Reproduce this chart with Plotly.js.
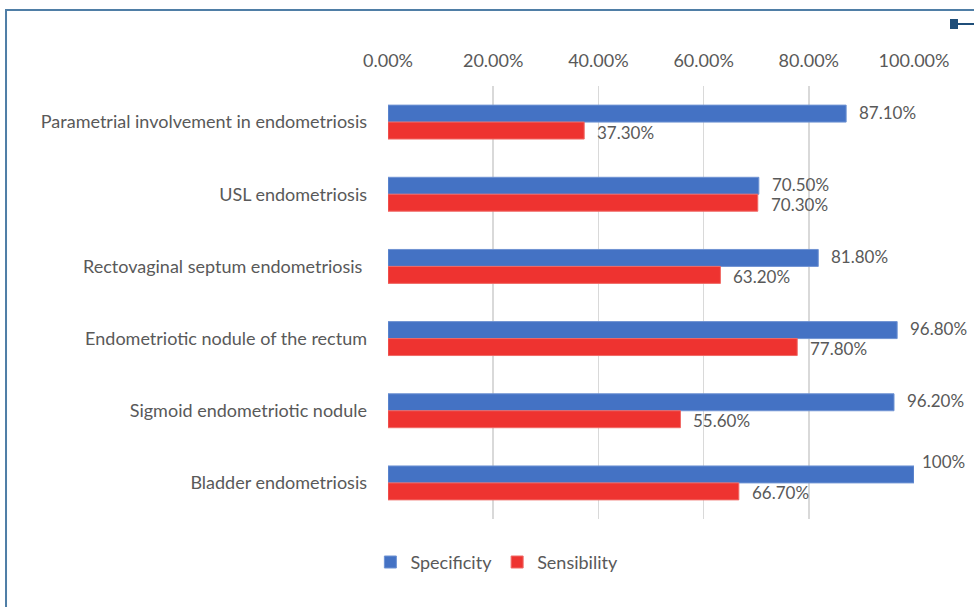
<!DOCTYPE html>
<html>
<head>
<meta charset="utf-8">
<script src="https://cdn.plot.ly/plotly-3.0.1.min.js"></script>
<style>
html,body{margin:0;padding:0;background:#fff;}
#chart{width:974px;height:607px;}
</style>
</head>
<body>
<div id="chart"></div>
<script>
const categories = [
  "Parametrial involvement in endometriosis",
  "USL endometriosis",
  "Rectovaginal septum endometriosis ",
  "Endometriotic nodule of the rectum",
  "Sigmoid endometriotic nodule",
  "Bladder endometriosis"
];
const specificity = [0.871, 0.705, 0.818, 0.968, 0.962, 1.0];
const sensibility = [0.373, 0.703, 0.632, 0.778, 0.556, 0.667];
const specificityLabels = ["87.10%", "70.50%", "81.80%", "96.80%", "96.20%", "100%"];
const sensibilityLabels = ["37.30%", "70.30%", "63.20%", "77.80%", "55.60%", "66.70%"];
const tickVals = [0, 0.2, 0.4, 0.6, 0.8, 1.0];
const tickText = ["0.00%", "20.00%", "40.00%", "60.00%", "80.00%", "100.00%"];

const FONT = "Lato, 'Open Sans', sans-serif";
const FS = 18;
const LFS = 17;
const GRAY = "#595959";
const BLUE = "#4472C4";
const RED = "#EE3330";

const traces = [
  {type: "bar", orientation: "h", name: "Specificity", y: categories, x: specificity,
   marker: {color: BLUE, line: {color: "#6f93d3", width: 1}}, hoverinfo: "x+y"},
  {type: "bar", orientation: "h", name: "Sensibility", y: categories, x: sensibility,
   marker: {color: RED, line: {color: "#f06a66", width: 1}}, hoverinfo: "x+y"}
];

const annotations = [];
categories.forEach((c, i) => {
  annotations.push({x: specificity[i], y: c, xref: "x", yref: "y", text: specificityLabels[i],
    showarrow: false, xanchor: "left", yanchor: "middle", xshift: specificity[i] >= 1 ? 6 : 11,
    yshift: specificity[i] >= 1 ? 21 : 10, font: {family: FONT, size: LFS, color: GRAY}});
  annotations.push({x: sensibility[i], y: c, xref: "x", yref: "y", text: sensibilityLabels[i],
    showarrow: false, xanchor: "left", yanchor: "middle", xshift: 11,
    yshift: -10, font: {family: FONT, size: LFS, color: GRAY}});
});

const frameColor = "#4F7EA6";
const layout = {
  width: 974, height: 607,
  margin: {l: 388, r: 60, t: 86, b: 88},
  paper_bgcolor: "#fff", plot_bgcolor: "#fff",
  barmode: "group", bargap: 0.53, bargroupgap: 0,
  font: {family: FONT, size: FS, color: GRAY},
  showlegend: true,
  legend: {orientation: "h", x: 0.207, xanchor: "center", y: -0.1, yanchor: "middle",
    font: {family: FONT, size: FS, color: GRAY}, traceorder: "normal", itemwidth: 30,
    itemclick: false},
  xaxis: {side: "top", range: [0, 1], tickvals: tickVals, ticktext: tickText,
    showgrid: true, gridcolor: "#D9D9D9", gridwidth: 1.5, zeroline: false, showline: false,
    ticks: "", ticklabelstandoff: 14, tickfont: {family: FONT, size: FS, color: GRAY}, fixedrange: true},
  yaxis: {type: "category", autorange: "reversed", showgrid: false, zeroline: false,
    showline: false, ticks: "", ticklabelstandoff: 20,
    tickfont: {family: FONT, size: FS, color: GRAY}, fixedrange: true},
  annotations: annotations,
  shapes: [
    {type: "path", xref: "paper", yref: "paper",
     path: "M -0.7262,-0.21 L -0.7262,1.1755 L 1.12,1.1755",
     line: {color: frameColor, width: 2}},
    {type: "rect", xref: "paper", yref: "paper",
     x0: 1.0684, x1: 1.0836, y0: 1.1316, y1: 1.1547,
     fillcolor: "#1F4E79", line: {width: 0}},
    {type: "line", xref: "paper", yref: "paper",
     x0: 1.0836, x1: 1.12, y0: 1.1432, y1: 1.1432,
     line: {color: "#1F4E79", width: 2}}
  ]
};

Plotly.newPlot("chart", traces, layout, {displayModeBar: false, staticPlot: true});
</script>
</body>
</html>
